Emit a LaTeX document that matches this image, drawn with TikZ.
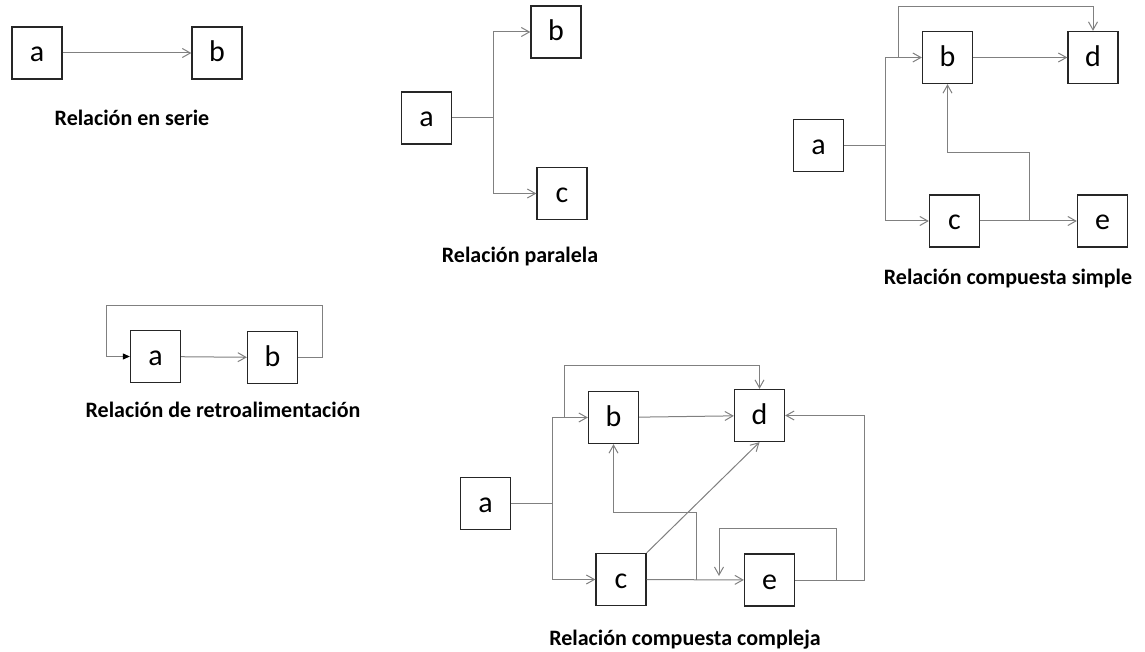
\documentclass[tikz,border=0pt]{standalone}
\usepackage{fontspec}
\setmainfont{Carlito}
\usetikzlibrary{arrows.meta}
\begin{document}
\begin{tikzpicture}[x=1pt,y=-1pt,
  blk/.style={draw=black!85, line width=1.3pt, minimum width=50pt, minimum height=52pt,
    inner sep=0pt, text height=18pt, text depth=0pt, font=\fontsize{30}{32}\selectfont},
  captext/.style={font=\bfseries\fontsize{22}{26}\selectfont, inner sep=0pt},
  arr/.style={draw=black!50, line width=1pt, -{Straight Barb[length=8pt,width=9pt]}},
  fed/.style={draw=black!50, line width=1pt, -{Triangle[length=7pt,width=6pt,fill=black,color=black]}},
  ln/.style={draw=black!50, line width=1pt}]
\useasboundingbox (0,0) rectangle (1145,652);

% --- series
\node[blk] (sa) at (37,53) {a};
\node[blk] (sb) at (217,53) {b};
\draw[arr] (sa) -- (sb);
\node[captext] (sl) at (132,118) {Relación en serie};

% --- parallel
\node[blk] (pa) at (426.5,118) {a};
\node[blk] (pb) at (556,32) {b};
\node[blk] (pc) at (562,193.5) {c};
\coordinate (pj) at (493,118);
\draw[ln] (pa) -- (pj);
\draw[arr] (pj) |- (pb);
\draw[arr] (pj) |- (pc);
\node[captext] (pl) at (520,257) {Relación paralela};

% --- simple compound
\node[blk] (ma) at (818.5,145.5) {a};
\node[blk] (mb) at (947.5,57.5) {b};
\node[blk] (md) at (1093,57.5) {d};
\node[blk] (mc) at (954.5,221) {c};
\node[blk] (me) at (1102.5,221) {e};
\coordinate (mj) at (885,145.5);
\draw[ln] (ma) -- (mj);
\draw[arr] (mj) |- (mb);
\draw[arr] (mj) |- (mc);
\coordinate (mt) at (898,57.5);
\coordinate (mtt) at (898,7);
\draw[arr] (mt) -- (mtt) -| (md.north);
\draw[arr] (mb) -- (md);
\draw[arr] (mc) -- (me);
\coordinate (mk) at (1029,221);
\coordinate (mku) at (1029,153);
\draw[arr] (mk) -- (mku) -| (mb.south);
\node[captext] (ml) at (1008,279) {Relación compuesta simple};

% --- feedback
\node[blk] (fa) at (155.5,356.5) {a};
\node[blk] (fb) at (272.5,357.5) {b};
\draw[arr] (fa) -- (fb);
\coordinate (fr) at (322,305);
\coordinate (fl) at (106,305);
\draw[fed] (fb.east) -| (fr) -- (fl) |- (fa.west);
\node[captext] (fll) at (223,410) {Relación de retroalimentación};

% --- complex compound
\node[blk] (ca) at (485.5,503.5) {a};
\node[blk] (cb) at (613.5,417.5) {b};
\node[blk] (cd) at (759.5,415.5) {d};
\node[blk] (cc) at (621,579.5) {c};
\node[blk] (ce) at (769.5,580) {e};
\coordinate (cj) at (552,503.5);
\draw[ln] (ca) -- (cj);
\draw[arr] (cj) |- (cb);
\draw[arr] (cj) |- (cc);
\coordinate (ct) at (564,417.5);
\coordinate (ctt) at (564,365);
\draw[arr] (ct) -- (ctt) -| (cd.north);
\draw[arr] (cb) -- (cd);
\draw[arr] (cc) -- (ce);
\coordinate (ck) at (696,580);
\coordinate (cku) at (696,512);
\draw[arr] (ck) -- (cku) -| (cb.south);
\draw[arr] (cc.north east) -- (cd.south);
\coordinate (cr) at (864,580);
\draw[arr] (ce.east) -- (cr) |- (cd.east);
\coordinate (cs) at (836,580);
\coordinate (cst) at (836,528);
\coordinate (cse) at (719,576);
\draw[arr] (cs) -- (cst) -| (cse);
\node[captext] (cl) at (685,640) {Relación compuesta compleja};
\end{tikzpicture}
\end{document}
